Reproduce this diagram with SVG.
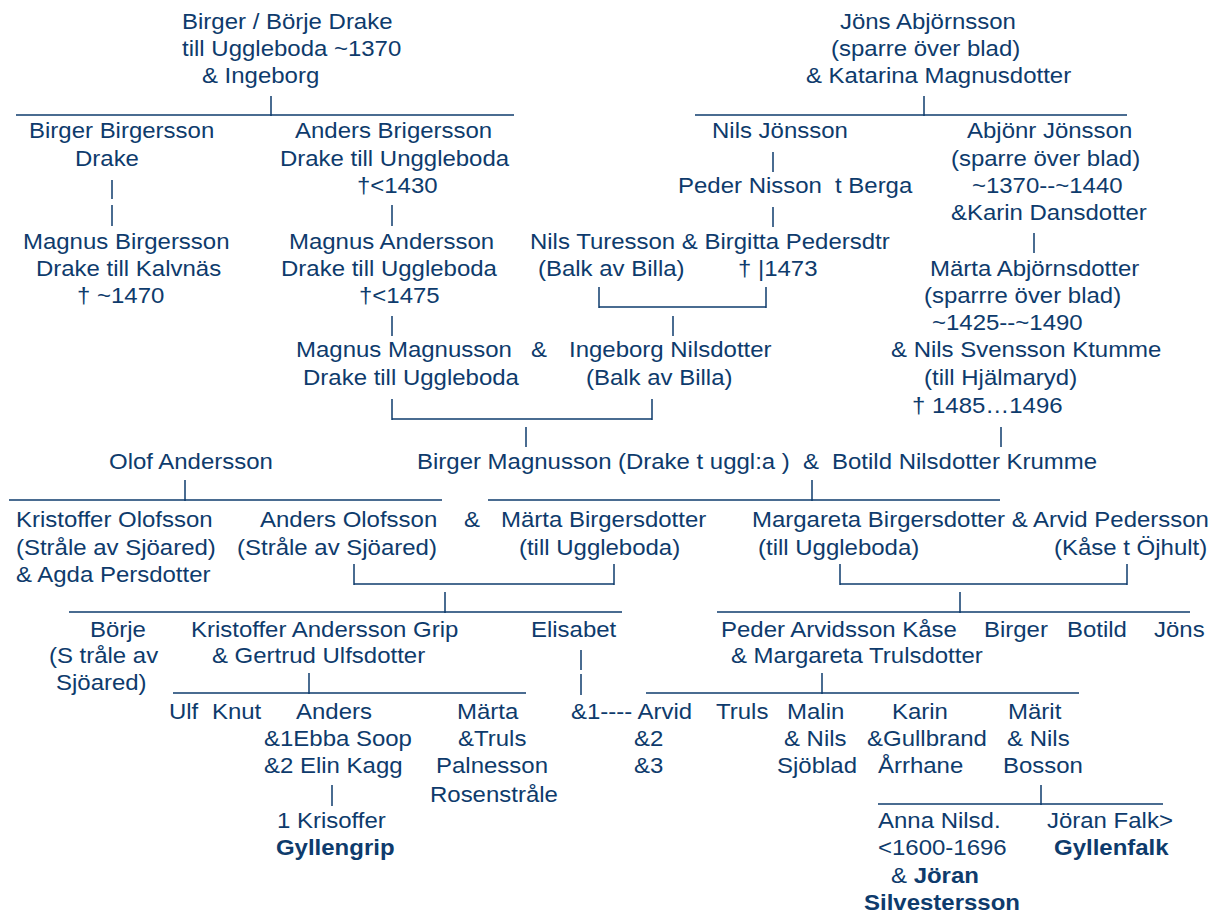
<svg xmlns="http://www.w3.org/2000/svg" width="1221" height="918" viewBox="0 0 1221 918">
<style>
text{font-family:"Liberation Sans",Arial,sans-serif;font-size:21.8px;fill:#0e3b6c}
.b{font-weight:bold}
#connectors line{stroke:#0e3b6c;stroke-width:1.5}
</style>
<rect width="1221" height="918" fill="#fff"/>
<g id="connectors">
<line x1="16" y1="115" x2="514" y2="115"/><line x1="271" y1="96" x2="271" y2="116"/>
<line x1="695" y1="115" x2="1127" y2="115"/><line x1="924" y1="96" x2="924" y2="116"/>
<line x1="112" y1="180" x2="112" y2="199"/><line x1="112" y1="205" x2="112" y2="226"/>
<line x1="392" y1="205" x2="392" y2="226"/><line x1="392" y1="316" x2="392" y2="336"/>
<line x1="773" y1="152" x2="773" y2="172"/><line x1="773" y1="207" x2="773" y2="227"/>
<line x1="1034" y1="233" x2="1034" y2="253"/>
<line x1="599" y1="307" x2="766" y2="307"/><line x1="599" y1="287" x2="599" y2="308"/><line x1="766" y1="287" x2="766" y2="308"/>
<line x1="673" y1="316" x2="673" y2="336"/>
<line x1="392" y1="419" x2="652" y2="419"/><line x1="392" y1="399" x2="392" y2="420"/><line x1="652" y1="399" x2="652" y2="420"/>
<line x1="526" y1="427" x2="526" y2="447"/><line x1="1001" y1="427" x2="1001" y2="447"/>
<line x1="9" y1="500" x2="442" y2="500"/><line x1="185" y1="480" x2="185" y2="501"/>
<line x1="488" y1="500" x2="1000" y2="500"/><line x1="812" y1="480" x2="812" y2="501"/>
<line x1="354" y1="584" x2="614" y2="584"/><line x1="354" y1="564" x2="354" y2="585"/><line x1="614" y1="564" x2="614" y2="585"/>
<line x1="840" y1="584" x2="1127" y2="584"/><line x1="840" y1="564" x2="840" y2="585"/><line x1="1127" y1="564" x2="1127" y2="585"/>
<line x1="69" y1="612" x2="622" y2="612"/><line x1="445" y1="592" x2="445" y2="613"/>
<line x1="717" y1="612" x2="1190" y2="612"/><line x1="960" y1="592" x2="960" y2="613"/>
<line x1="581" y1="650" x2="581" y2="670"/><line x1="581" y1="674" x2="581" y2="695"/>
<line x1="173" y1="693" x2="526" y2="693"/><line x1="309" y1="673" x2="309" y2="694"/>
<line x1="646" y1="693" x2="1079" y2="693"/><line x1="822" y1="673" x2="822" y2="694"/>
<line x1="332" y1="785" x2="332" y2="806"/>
<line x1="878" y1="804" x2="1163" y2="804"/><line x1="1041" y1="785" x2="1041" y2="805"/>
</g>
<g id="nodes" transform="scale(1.1 1)">
<g id="n-birger-borje"><text x="165.5" y="29">Birger / Börje Drake</text><text x="165.5" y="56">till Uggleboda ~1370</text><text x="183.6" y="83">&amp; Ingeborg</text></g>
<g id="n-jons-abjornsson"><text x="763.6" y="29">Jöns Abjörnsson</text><text x="755.5" y="56">(sparre över blad)</text><text x="732.7" y="83">&amp; Katarina Magnusdotter</text></g>
<g id="n-birger-birgersson"><text x="26.4" y="138">Birger Birgersson</text><text x="68.2" y="166">Drake</text></g>
<g id="n-anders-brigersson"><text x="268.2" y="138">Anders Brigersson</text><text x="254.5" y="166">Drake till Unggleboda</text><text x="324.5" y="193">†&lt;1430</text></g>
<g id="n-nils-jonsson"><text x="647.3" y="138">Nils Jönsson</text></g>
<g id="n-abjonr-jonsson"><text x="879.1" y="138">Abjönr Jönsson</text><text x="864.5" y="166">(sparre över blad)</text><text x="883.6" y="193">~1370--~1440</text><text x="864.5" y="220">&amp;Karin Dansdotter</text></g>
<g id="n-peder-nisson"><text x="616.4" y="193">Peder Nisson</text><text x="759.1" y="193">t Berga</text></g>
<g id="n-magnus-birgersson"><text x="20.9" y="249">Magnus Birgersson</text><text x="32.7" y="276">Drake till Kalvnäs</text><text x="70" y="303">† ~1470</text></g>
<g id="n-magnus-andersson"><text x="262.7" y="249">Magnus Andersson</text><text x="255.5" y="276">Drake till Uggleboda</text><text x="326.4" y="303">†&lt;1475</text></g>
<g id="n-nils-turesson"><text x="481.8" y="249">Nils Turesson &amp; Birgitta Pedersdtr</text><text x="489.1" y="276">(Balk av Billa)</text><text x="670.9" y="276">† |1473</text></g>
<g id="n-marta-abjornsdotter"><text x="845.5" y="276">Märta Abjörnsdotter</text><text x="840" y="303">(sparrre över blad)</text><text x="847.3" y="330">~1425--~1490</text><text x="810" y="357">&amp; Nils Svensson Ktumme</text><text x="840" y="385">(till Hjälmaryd)</text><text x="829.1" y="413">† 1485…1496</text></g>
<g id="n-magnus-magnusson"><text x="269.1" y="357">Magnus Magnusson</text><text x="482.7" y="357">&amp;</text><text x="275.5" y="385">Drake till Uggleboda</text></g>
<g id="n-ingeborg-nilsdotter"><text x="517.3" y="357">Ingeborg Nilsdotter</text><text x="532.7" y="385">(Balk av Billa)</text></g>
<g id="n-olof-andersson"><text x="99.1" y="469">Olof Andersson</text></g>
<g id="n-birger-magnusson"><text x="379.1" y="469">Birger Magnusson</text><text x="561.8" y="469">(Drake t uggl:a )</text><text x="730" y="469">&amp;</text><text x="756.4" y="469">Botild Nilsdotter Krumme</text></g>
<g id="n-kristoffer-olofsson"><text x="14.5" y="527">Kristoffer Olofsson</text><text x="14.5" y="555">(Stråle av Sjöared)</text><text x="14.5" y="582">&amp; Agda Persdotter</text></g>
<g id="n-anders-olofsson"><text x="236.4" y="527">Anders Olofsson</text><text x="421.8" y="527">&amp;</text><text x="215.5" y="555">(Stråle av Sjöared)</text></g>
<g id="n-marta-birgersdotter"><text x="455.5" y="527">Märta Birgersdotter</text><text x="471.8" y="555">(till Uggleboda)</text></g>
<g id="n-margareta-birgersdotter"><text x="683.6" y="527">Margareta Birgersdotter &amp; Arvid Pedersson</text><text x="689.1" y="555">(till Uggleboda)</text><text x="958.2" y="555">(Kåse t Öjhult)</text></g>
<g id="n-borje"><text x="81.8" y="637">Börje</text><text x="44.5" y="663">(S tråle av</text><text x="50.9" y="690">Sjöared)</text></g>
<g id="n-kristoffer-grip"><text x="173.6" y="637">Kristoffer Andersson Grip</text><text x="192.7" y="663">&amp; Gertrud Ulfsdotter</text></g>
<g id="n-elisabet"><text x="482.7" y="637">Elisabet</text></g>
<g id="n-peder-arvidsson"><text x="655.5" y="637">Peder Arvidsson Kåse</text><text x="664.5" y="663">&amp; Margareta Trulsdotter</text></g>
<g id="n-birger"><text x="894.5" y="637">Birger</text></g>
<g id="n-botild"><text x="970" y="637">Botild</text></g>
<g id="n-jons"><text x="1049.1" y="637">Jöns</text></g>
<g id="n-ulf"><text x="153.6" y="719">Ulf</text></g>
<g id="n-knut"><text x="192.7" y="719">Knut</text></g>
<g id="n-anders"><text x="269.1" y="719">Anders</text><text x="240" y="746">&amp;1Ebba Soop</text><text x="240" y="773">&amp;2 Elin Kagg</text></g>
<g id="n-marta"><text x="415.5" y="719">Märta</text><text x="416.4" y="746">&amp;Truls</text><text x="396.4" y="773">Palnesson</text><text x="390.9" y="802">Rosenstråle</text></g>
<g id="n-arvid"><text x="519.1" y="719">&amp;1---- Arvid</text><text x="576.4" y="746">&amp;2</text><text x="576.4" y="773">&amp;3</text></g>
<g id="n-truls"><text x="650.9" y="719">Truls</text></g>
<g id="n-malin"><text x="715.5" y="719">Malin</text><text x="712.7" y="746">&amp; Nils</text><text x="706.4" y="773">Sjöblad</text></g>
<g id="n-karin"><text x="810.9" y="719">Karin</text><text x="788.2" y="746">&amp;Gullbrand</text><text x="798.2" y="773">Årrhane</text></g>
<g id="n-marit"><text x="916.4" y="719">Märit</text><text x="915.5" y="746">&amp; Nils</text><text x="911.8" y="773">Bosson</text></g>
<g id="n-krisoffer"><text x="251.8" y="828">1 Krisoffer</text><text class="b" x="250.9" y="855">Gyllengrip</text></g>
<g id="n-anna-nilsd"><text x="798.2" y="828">Anna Nilsd.</text><text x="798.2" y="855">&lt;1600-1696</text><text x="810" y="883">&amp; <tspan class="b">Jöran</tspan></text><text class="b" x="785.5" y="910">Silvestersson</text></g>
<g id="n-joran-falk"><text x="951.8" y="828">Jöran Falk&gt;</text><text class="b" x="958.2" y="855">Gyllenfalk</text></g>
</g>
</svg>
